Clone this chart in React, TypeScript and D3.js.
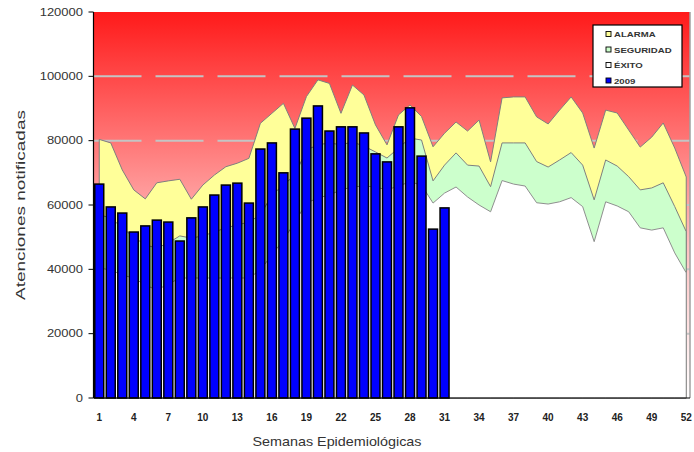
import React from "react";
import * as d3 from "d3";

// semanas epidemiologicas 1..52
const weeks = d3.range(1, 53);
const tickWeeks = [1, 4, 7, 10, 13, 16, 19, 22, 25, 28, 31, 34, 37, 40, 43, 46, 49, 52];
const yTicks = [0, 20000, 40000, 60000, 80000, 100000, 120000];

// 2009 (semanas 1-31)
const casos2009 = [
  66500, 59400, 57500, 51600, 53500, 55300, 54700, 48800, 56000, 59400,
  63100, 66200, 66800, 60600, 77400, 79300, 70000, 83600, 87000, 90800,
  83000, 84300, 84300, 82400, 75900, 73400, 84300, 90200, 75200, 52500,
  59100,
];

// canal endemico: limite superior de cada zona
const exito = [
  40400, 39800, 38200, 37300, 35100, 33600, 35400, 37300, 37300, 37300,
  37300, 37300, 37300, 37300, 39800, 44500, 49100, 54700, 60600, 62200,
  63100, 64700, 65600, 65900, 65600, 64700, 65900, 67200, 66200, 60600,
  63700, 65600, 62500, 60000, 57900, 67600, 66500, 65900, 60700, 60300,
  61000, 62300, 59500, 48600, 61000, 59700, 57900, 52900, 52200, 52900,
  45100, 38900,
];
const seguridad = [
  56900, 56000, 52900, 50000, 47600, 46600, 48200, 50400, 49700, 50400,
  51600, 52900, 53800, 54700, 56900, 63100, 66200, 69300, 77100, 78700,
  79300, 78700, 79600, 78300, 76500, 74600, 77700, 80800, 80200, 67500,
  72400, 76200, 72400, 72100, 65700, 79300, 79300, 79300, 73500, 71800,
  74000, 76300, 72400, 61600, 74000, 72100, 68800, 64700, 65300, 66900,
  59500, 51700,
];
const alarma = [
  80400, 79300, 70900, 64700, 61900, 66900, 67500, 68000, 61800, 66200,
  69300, 71900, 73000, 74500, 85400, 88500, 91600, 83800, 93700, 98900,
  97800, 88500, 97300, 94200, 84900, 78700, 88000, 91100, 87500, 78100,
  82300, 85800, 83000, 86400, 73400, 93300, 93600, 93600, 87400, 85200,
  89500, 93600, 88600, 77700, 89500, 88600, 83300, 78000, 81100, 85500,
  77700, 68700,
];

const legendItems = [
  { label: "ALARMA", color: "#ffff99" },
  { label: "SEGURIDAD", color: "#ccffcc" },
  { label: "ÉXITO", color: "#ffffff" },
  { label: "2009", color: "#0000ff" },
];

const W = 694;
const H = 452;
const left = 93.5;
const right = 692;
const border = 690;
const top = 12;
const bottom = 398;

const App = () => {
  const x = d3
    .scaleBand<number>()
    .domain(weeks)
    .range([left, right])
    .paddingInner(0.22)
    .paddingOuter(0.11);
  const cx = (w: number) => (x(w) as number) + x.bandwidth() / 2;
  const y = d3.scaleLinear().domain([0, 120000]).range([bottom, top]);

  const areaOf = (vals: number[]) =>
    d3
      .area<number>()
      .x((d, i) => cx(weeks[i]))
      .y0(y(0))
      .y1((d) => y(d))(vals) as string;

  const font = "Arial, 'Liberation Sans', sans-serif";

  return (
    <svg
      width={W}
      height={H}
      style={{ position: "absolute", left: 0, top: 0, background: "#fff" }}
    >
      <defs>
        <linearGradient id="fondo" x1="0" y1="0" x2="0" y2="1">
          <stop offset="0" stopColor="#ff1a1a" />
          <stop offset="0.6" stopColor="#ffc0c0" />
          <stop offset="1" stopColor="#ffffff" />
        </linearGradient>
      </defs>

      <rect x={left} y={top} width={border - left} height={bottom - top} fill="url(#fondo)" />

      {yTicks.slice(1, -1).map((t) => (
        <line
          key={t}
          x1={left}
          x2={border}
          y1={y(t)}
          y2={y(t)}
          stroke="#c4c4c4"
          strokeWidth={2}
          strokeDasharray="48 14"
        />
      ))}

      <path d={areaOf(alarma)} fill="#ffff99" stroke="#7f7f7f" strokeWidth={1} />
      <path d={areaOf(seguridad)} fill="#ccffcc" stroke="#7f7f7f" strokeWidth={1} />
      <path d={areaOf(exito)} fill="#ffffff" stroke="#8f8f8f" strokeWidth={1} />

      {casos2009.map((v, i) => (
        <rect
          key={i}
          x={x(weeks[i])}
          y={y(v)}
          width={x.bandwidth()}
          height={y(0) - y(v)}
          fill="#0000ff"
          stroke="#000"
          strokeWidth={1.5}
        />
      ))}

      <line x1={border} x2={border} y1={top} y2={bottom} stroke="#a0a0a0" strokeWidth={1.5} />
      <line x1={left} x2={left} y1={top} y2={bottom} stroke="#000" strokeWidth={1.2} />
      <line x1={left} x2={border} y1={bottom} y2={bottom} stroke="#000" strokeWidth={1.2} />

      {yTicks.map((t) => (
        <g key={t}>
          <line x1={left - 5} x2={left} y1={y(t)} y2={y(t)} stroke="#000" strokeWidth={1} />
          <text
            transform={`translate(83,${y(t) + 3.8}) scale(1.3,1)`}
            textAnchor="end"
            fontFamily={font}
            fontSize={10}
            fill="#333"
          >
            {t}
          </text>
        </g>
      ))}

      {tickWeeks.map((w) => (
        <text
          key={w}
          x={cx(w)}
          y={421}
          textAnchor="middle"
          fontFamily={font}
          fontSize={10}
          fontWeight="bold"
          fill="#222"
        >
          {w}
        </text>
      ))}

      <text
        x={337}
        y={446}
        textAnchor="middle"
        fontFamily={font}
        fontSize={13}
        fill="#333"
        textLength={169}
        lengthAdjust="spacingAndGlyphs"
      >
        Semanas Epidemiológicas
      </text>
      <text
        transform="translate(25,205) rotate(-90)"
        textAnchor="middle"
        fontFamily={font}
        fontSize={12.5}
        fill="#333"
        textLength={190}
        lengthAdjust="spacingAndGlyphs"
      >
        Atenciones notificadas
      </text>

      <g>
        <rect x={593} y={25} width={89} height={62} fill="#fff" stroke="#000" strokeWidth={1.2} />
        {legendItems.map((it, i) => {
          const ly = 34 + i * 15.5;
          return (
            <g key={it.label}>
              <rect
                x={606}
                y={ly - 2.5}
                width={5}
                height={5}
                fill={it.color}
                stroke="#000"
                strokeWidth={0.9}
              />
              <text
                transform={`translate(614,${ly + 3}) scale(1.2,1)`}
                fontFamily={font}
                fontSize={8}
                fontWeight="bold"
                fill="#333"
              >
                {it.label}
              </text>
            </g>
          );
        })}
      </g>
    </svg>
  );
};

export default App;
